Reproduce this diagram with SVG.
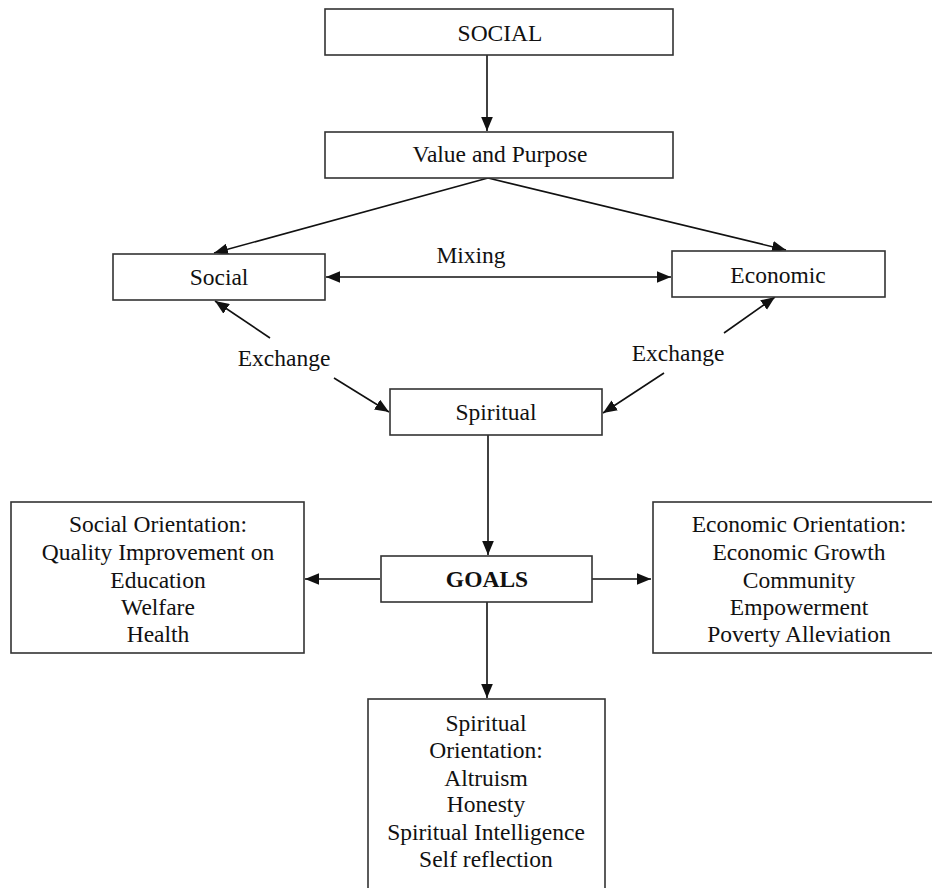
<svg xmlns="http://www.w3.org/2000/svg" width="932" height="888" viewBox="0 0 932 888">
<style>
.box{fill:#fff;stroke:#333;stroke-width:1.6}
.t{font-family:"Liberation Serif","Times New Roman",serif;font-size:23.5px;fill:#111;text-anchor:middle}
.b{font-weight:bold}
.c{fill:none;stroke:#111;stroke-width:1.6}
</style>
<defs>
<marker id="ah" markerUnits="userSpaceOnUse" markerWidth="14" markerHeight="12" refX="12" refY="5" orient="auto-start-reverse" viewBox="0 0 12 10">
<path d="M0,0 L12,5 L0,10 Z" fill="#111"/>
</marker>
</defs>
<rect width="932" height="888" fill="#fff"/>
<g id="connectors">
<line class="c" x1="487" y1="55" x2="487" y2="131" marker-end="url(#ah)"/>
<line class="c" x1="488" y1="178" x2="214" y2="253" marker-end="url(#ah)"/>
<line class="c" x1="488" y1="178" x2="786" y2="250" marker-end="url(#ah)"/>
<line class="c" x1="326" y1="277" x2="671" y2="277" marker-start="url(#ah)" marker-end="url(#ah)"/>
<line class="c" x1="270" y1="338" x2="215" y2="301" marker-end="url(#ah)"/>
<line class="c" x1="334" y1="378" x2="389" y2="412" marker-end="url(#ah)"/>
<line class="c" x1="724" y1="333" x2="775" y2="297" marker-end="url(#ah)"/>
<line class="c" x1="664" y1="373" x2="603" y2="413" marker-end="url(#ah)"/>
<line class="c" x1="488" y1="435" x2="488" y2="555" marker-end="url(#ah)"/>
<line class="c" x1="380" y1="579" x2="305" y2="579" marker-end="url(#ah)"/>
<line class="c" x1="592" y1="579" x2="651" y2="579" marker-end="url(#ah)"/>
<line class="c" x1="487" y1="602" x2="487" y2="698" marker-end="url(#ah)"/>
<text class="t" x="471" y="263">Mixing</text>
<text class="t" x="284" y="366">Exchange</text>
<text class="t" x="678" y="361">Exchange</text>
</g>
<g id="social-top">
<rect class="box" x="325" y="9" width="348" height="46"/>
<text class="t" x="500" y="41">SOCIAL</text>
</g>
<g id="value-purpose">
<rect class="box" x="325" y="132" width="348" height="46"/>
<text class="t" x="500" y="162">Value and Purpose</text>
</g>
<g id="social">
<rect class="box" x="113" y="254" width="212" height="46"/>
<text class="t" x="219" y="285">Social</text>
</g>
<g id="economic">
<rect class="box" x="672" y="251" width="213" height="46"/>
<text class="t" x="778" y="283">Economic</text>
</g>
<g id="spiritual">
<rect class="box" x="390" y="389" width="212" height="46"/>
<text class="t" x="496" y="420">Spiritual</text>
</g>
<g id="goals">
<rect class="box" x="381" y="556" width="211" height="46"/>
<text class="t b" x="487" y="587">GOALS</text>
</g>
<g id="social-orientation">
<rect class="box" x="11" y="502" width="293" height="151"/>
<text class="t" x="158" y="532">Social Orientation:</text>
<text class="t" x="158" y="560">Quality Improvement on</text>
<text class="t" x="158" y="588">Education</text>
<text class="t" x="158" y="615">Welfare</text>
<text class="t" x="158" y="642">Health</text>
</g>
<g id="economic-orientation">
<rect class="box" x="653" y="502" width="293" height="151"/>
<text class="t" x="799" y="532">Economic Orientation:</text>
<text class="t" x="799" y="560">Economic Growth</text>
<text class="t" x="799" y="588">Community</text>
<text class="t" x="799" y="615">Empowerment</text>
<text class="t" x="799" y="642">Poverty Alleviation</text>
</g>
<g id="spiritual-orientation">
<rect class="box" x="368" y="699" width="237" height="200"/>
<text class="t" x="486" y="731">Spiritual</text>
<text class="t" x="486" y="758">Orientation:</text>
<text class="t" x="486" y="786">Altruism</text>
<text class="t" x="486" y="812">Honesty</text>
<text class="t" x="486" y="840">Spiritual Intelligence</text>
<text class="t" x="486" y="867">Self reflection</text>
</g>
</svg>
